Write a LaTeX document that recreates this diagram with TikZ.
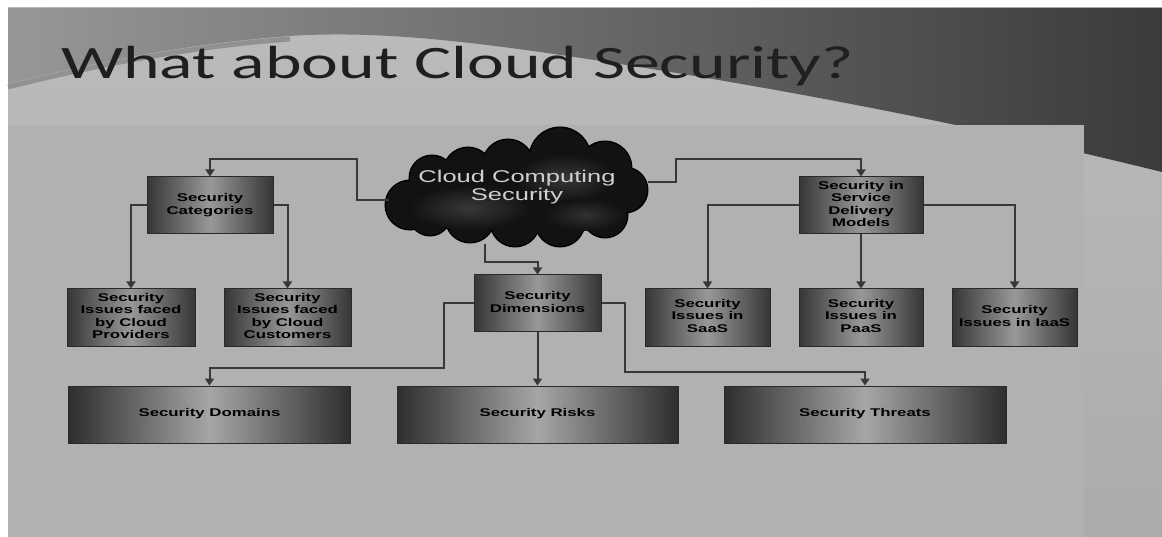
\documentclass[tikz,border=0pt]{standalone}
\usepackage{graphicx}
\usepackage{fontspec}
\setmainfont{Liberation Sans}
\newfontfamily\titlefont{Carlito}
\usetikzlibrary{shapes.geometric,arrows.meta,calc}
\definecolor{slidetop}{HTML}{BBBBBB}
\definecolor{slidebot}{HTML}{ABABAB}
\definecolor{panelcol}{HTML}{B1B1B1}
\definecolor{hdrL}{HTML}{979797}
\definecolor{hdrR}{HTML}{3B3B3B}
\definecolor{lipcol}{HTML}{6A6A6A}
\definecolor{boxdark}{HTML}{363636}
\definecolor{boxlight}{HTML}{989898}
\definecolor{bigdark}{HTML}{2E2E2E}
\definecolor{biglight}{HTML}{A6A6A6}
\definecolor{boxline}{HTML}{2A2A2A}
\definecolor{linecol}{HTML}{383838}
\definecolor{cloudfill}{HTML}{121212}
\definecolor{cloudblob}{HTML}{383838}
\definecolor{cloudtext}{HTML}{CFCFCF}
\definecolor{titlecol}{HTML}{1F1F1F}
\newcommand\sxt[1]{\scalebox{1.5}[1]{\begin{tabular}{@{}c@{}}#1\end{tabular}}}
\newcommand\puffs{%
  (410,205) circle (24) (432,178) circle (22) (468,172) circle (24)
  (508,165) circle (25) (560,158) circle (30) (605,168) circle (26)
  (625,190) circle (22) (605,215) circle (22) (560,222) circle (24)
  (515,222) circle (24) (470,218) circle (24) (430,215) circle (20)
  (517,193) ellipse (105 and 38)}
\tikzset{
  stepbox/.style={draw=boxline, line width=1pt, left color=boxdark, right color=boxdark,
    middle color=boxlight, minimum height=57pt, inner sep=0pt, text=black,
    font=\fontsize{11.2}{12.3}\selectfont\bfseries},
  bigbox/.style={stepbox, left color=bigdark, right color=bigdark, middle color=biglight,
    minimum width=282pt},
  conn/.style={draw=linecol, line width=2pt, -{Triangle[width=9pt,length=7pt]}},
}
\begin{document}
\begin{tikzpicture}[x=1pt,y=-1pt]
\useasboundingbox (0,0) rectangle (1162,537);
% background
\fill[white] (0,0) rectangle (1162,537);
\shade[top color=slidetop, bottom color=slidebot] (8,8) rectangle (1162,537);
\shade[left color=hdrL, right color=hdrR] (8,8) -- (1162,8) -- (1162,172)
  .. controls (1000,132) and (820,95) .. (620,64)
  .. controls (480,42) and (380,30) .. (290,36)
  .. controls (180,44) and (80,66) .. (8,84) -- cycle;
\draw[lipcol, line width=5pt, opacity=0.5] (8,87) .. controls (80,69) and (180,47) .. (290,39);
\fill[panelcol] (8,125) rectangle (1084,537);
% title
\node[anchor=base west, inner sep=0pt, text=titlecol,
  font=\titlefont\fontsize{46.5}{50}\selectfont] (title) at (61,79)
  {\scalebox{1.5}[1]{What about Cloud Security?}};
% cloud drawing
\draw[black, line width=3pt] \puffs;
\fill[cloudfill] \puffs;
\shade[inner color=cloudblob, outer color=cloudfill] (470,208) ellipse (60 and 22);
\shade[inner color=cloudblob, outer color=cloudfill] (565,178) ellipse (50 and 24);
\shade[inner color=cloudblob!80!cloudfill, outer color=cloudfill] (585,215) ellipse (40 and 16);
\node[ellipse, minimum width=262pt, minimum height=118pt, inner sep=0pt] (cloud) at (517,187) {};
\node[text=cloudtext, inner sep=0pt, font=\fontsize{17}{17}\selectfont] (cloudlabel)
  at (517,188) {\sxt{Cloud Computing\\Security}};
% boxes
\node[stepbox, minimum width=126pt] (cat) at (210,205.5) {\sxt{Security\\Categories}};
\node[stepbox, minimum width=128pt] (prov) at (131,317.5) {\sxt{Security\\Issues faced\\by Cloud\\Providers}};
\node[stepbox, minimum width=127pt] (cust) at (287.5,317.5) {\sxt{Security\\Issues faced\\by Cloud\\Customers}};
\node[stepbox, minimum width=127pt] (dim) at (537.5,303.5) {\sxt{Security\\Dimensions}};
\node[stepbox, minimum width=124pt] (sdm) at (861,205.5) {\sxt{Security in\\Service\\Delivery\\Models}};
\node[stepbox, minimum width=125pt] (saas) at (707.5,317.5) {\sxt{Security\\Issues in\\SaaS}};
\node[stepbox, minimum width=124pt] (paas) at (861,317.5) {\sxt{Security\\Issues in\\PaaS}};
\node[stepbox, minimum width=125pt] (iaas) at (1014.5,317.5) {\sxt{Security\\Issues in IaaS}};
\node[bigbox] (dom) at (209.5,414.5) {\sxt{Security Domains}};
\node[bigbox, minimum width=281pt] (risk) at (537.5,414.5) {\sxt{Security Risks}};
\node[bigbox] (threat) at (865,414.5) {\sxt{Security Threats}};
% bend points
\coordinate (jl) at (357,159);
\coordinate (jr) at (676,159);
\coordinate (jd) at (444,368);
\coordinate (je) at (625,372);
% connectors
\draw[conn] (cloud.186) -| (jl) -| (cat.north);
\draw[conn] (cloud.2) -| (jr) -| (sdm.north);
\draw[conn] (cloud.241) |- ($(dim.north)+(0,-12)$) -- (dim.north);
\draw[conn] (cat.west) -| (prov.north);
\draw[conn] (cat.east) -| (cust.north);
\draw[conn] (sdm.west) -| (saas.north);
\draw[conn] (sdm.south) -- (paas.north);
\draw[conn] (sdm.east) -| (iaas.north);
\draw[conn] (dim.west) -| (jd) -| (dom.north);
\draw[conn] (dim.south) -- (risk.north);
\draw[conn] (dim.east) -| (je) -| (threat.north);
\end{tikzpicture}
\end{document}
